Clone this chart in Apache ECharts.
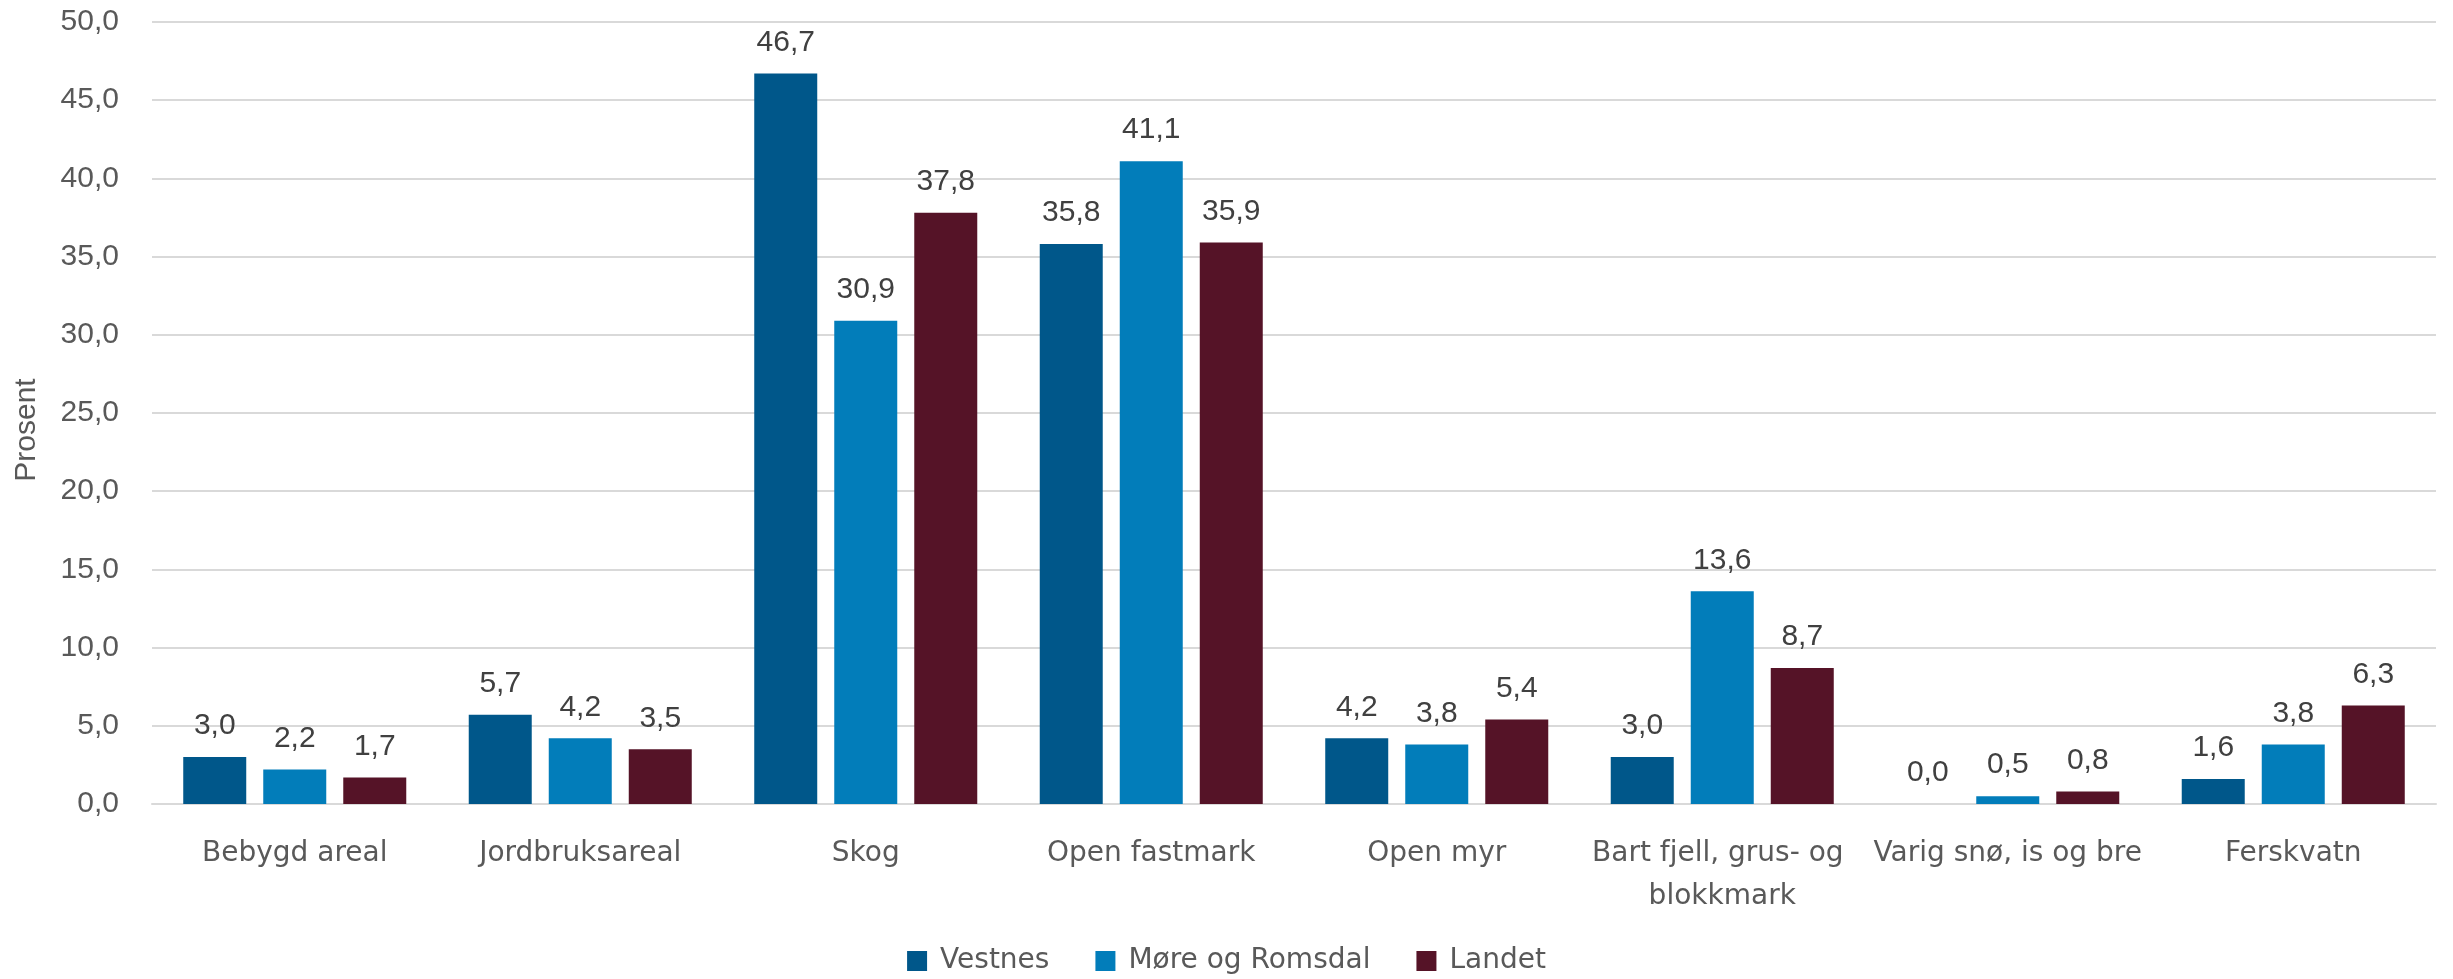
<!DOCTYPE html>
<html>
<head>
<meta charset="utf-8">
<script src="https://cdn.jsdelivr.net/npm/echarts@6/dist/echarts.min.js"></script>
<style>
html,body{margin:0;padding:0;background:#fff;}
#c{width:2453px;height:979px;}
</style>
</head>
<body>
<div id="c"></div>
<script>
const categories = ["Bebygd areal","Jordbruksareal","Skog","Open fastmark","Open myr","Bart fjell, grus- og blokkmark","Varig snø, is og bre","Ferskvatn"];
const vestnes = [3.0,5.7,46.7,35.8,4.2,3.0,0.0,1.6];
const moreOgRomsdal = [2.2,4.2,30.9,41.1,3.8,13.6,0.5,3.8];
const landet = [1.7,3.5,37.8,35.9,5.4,8.7,0.8,6.3];
const seriesNames = ["Vestnes","Møre og Romsdal","Landet"];
const colors = ["#00578A","#027DBA","#551327"];

const CAT_FONT = "DejaVu Sans";
const NUM_FONT = "Liberation Sans";
const fmt = v => v.toFixed(1).replace('.', ',');

const chart = echarts.init(document.getElementById('c'));
const mk = (name, data, color) => ({
  name, type: 'bar', data,
  itemStyle: {color},
  barWidth: 63,
  barGap: '27%',
  label: {show: true, position: 'top', distance: 16, formatter: p => fmt(p.value),
    color: '#404040', fontFamily: NUM_FONT, fontSize: 30}
});
chart.setOption({
  animation: false,
  grid: {left: 152, right: 17, top: 22, bottom: 175, outerBoundsMode: 'none', containLabel: false},
  legend: {
    top: 942, left: 'center', itemWidth: 20, itemHeight: 20, itemGap: 46,
    icon: 'rect',
    textStyle: {color: '#595959', fontFamily: CAT_FONT, fontSize: 28, padding: [0, 0, 0, 8]},
    data: seriesNames
  },
  xAxis: {
    type: 'category', data: categories,
    axisLine: {lineStyle: {color: '#d9d9d9', width: 2}},
    axisTick: {show: false},
    axisLabel: {color: '#595959', fontFamily: CAT_FONT, fontSize: 28, margin: 28, interval: 0,
      width: 285, overflow: 'break', lineHeight: 43}
  },
  yAxis: {
    type: 'value', min: 0, max: 50, interval: 5,
    name: 'Prosent', nameLocation: 'middle', nameGap: 110, nameRotate: 90,
    nameTextStyle: {color: '#595959', fontFamily: NUM_FONT, fontSize: 30, padding: [0, 34, 0, 0]},
    axisLine: {show: false}, axisTick: {show: false},
    splitLine: {lineStyle: {color: '#d9d9d9', width: 2}},
    axisLabel: {color: '#595959', fontFamily: NUM_FONT, fontSize: 30, margin: 33, formatter: v => fmt(v)}
  },
  series: [
    mk(seriesNames[0], vestnes, colors[0]),
    mk(seriesNames[1], moreOgRomsdal, colors[1]),
    mk(seriesNames[2], landet, colors[2])
  ]
});
</script>
</body>
</html>
